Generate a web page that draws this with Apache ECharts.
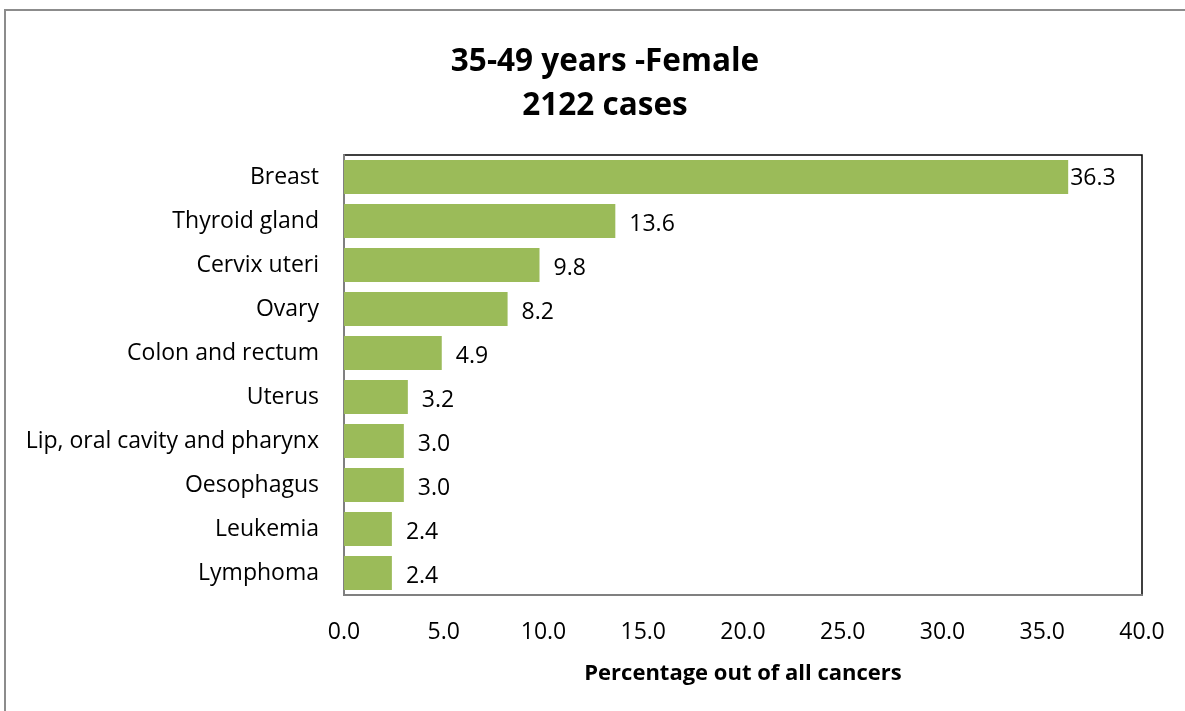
<!DOCTYPE html>
<html>
<head>
<meta charset="utf-8">
<script src="https://cdn.jsdelivr.net/npm/echarts@6/dist/echarts.min.js"></script>
<style>
  html, body { margin: 0; padding: 0; background: #fff; }
  #main { width: 1185px; height: 711px; }
</style>
</head>
<body>
<div id="main"></div>
<script>
// cancer sites, top to bottom
const sites = ['Breast', 'Thyroid gland', 'Cervix uteri', 'Ovary', 'Colon and rectum',
  'Uterus', 'Lip, oral cavity and pharynx', 'Oesophagus', 'Leukemia', 'Lymphoma'];
const percents = [36.3, 13.6, 9.8, 8.2, 4.9, 3.2, 3.0, 3.0, 2.4, 2.4];
const xTicks = [0, 5, 10, 15, 20, 25, 30, 35, 40];

const font = '"Open Sans", Lato, sans-serif';

let chart = echarts.init(document.getElementById('main'));

// label of the longest bar sits tight against it, others a bit off
const barData = percents.map((v, i) => i === 0
  ? { value: v, label: { distance: 2, offset: [0, 1] } }
  : v);

chart.setOption({
  animation: false,
  title: {
    text: '35-49 years -Female\n2122 cases',
    left: 600,
    textAlign: 'center',
    top: 35,
    textStyle: { fontFamily: font, fontSize: 31.5, fontWeight: 'bold', color: '#000', lineHeight: 44 }
  },
  graphic: [{
    type: 'rect',
    shape: { x: 5, y: 10, width: 1200, height: 720 },
    style: { fill: 'none', stroke: '#8c8c8c', lineWidth: 2 }
  }],
  grid: {
    left: 344, top: 155, right: 43, bottom: 116,
    show: true, borderColor: '#000', borderWidth: 1.5
  },
  xAxis: {
    type: 'value',
    min: xTicks[0], max: xTicks[xTicks.length - 1], interval: 5,
    splitLine: { show: false },
    axisLine: { show: true, lineStyle: { color: '#808080', width: 2 } },
    axisTick: { show: false },
    axisLabel: {
      fontFamily: font, fontSize: 23, color: '#000', margin: 26,
      formatter: v => v.toFixed(1)
    },
    name: 'Percentage out of all cancers',
    nameLocation: 'middle',
    nameGap: 68,
    nameTextStyle: { fontFamily: font, fontSize: 22, fontWeight: 'bold', color: '#000' }
  },
  yAxis: {
    type: 'category',
    data: sites,
    inverse: true,
    axisLine: { show: true, lineStyle: { color: '#808080', width: 2 } },
    axisTick: { show: false },
    axisLabel: { fontFamily: font, fontSize: 23, color: '#000', margin: 25 }
  },
  series: [{
    type: 'bar',
    data: barData,
    barCategoryGap: '23%',
    itemStyle: { color: '#9bbb59' },
    label: {
      show: true,
      position: 'right',
      distance: 14,
      offset: [0, 3],
      fontFamily: font, fontSize: 23, color: '#000',
      formatter: p => p.value.toFixed(1)
    }
  }]
});
</script>
</body>
</html>
